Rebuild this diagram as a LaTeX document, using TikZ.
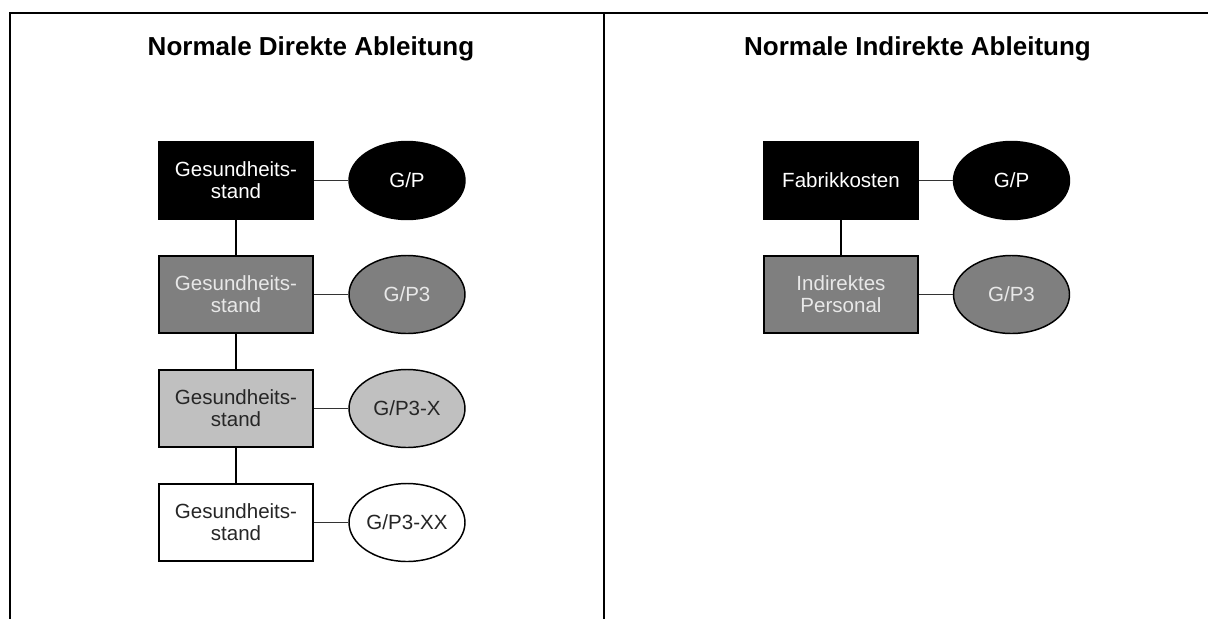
\documentclass[tikz,border=0pt]{standalone}
\usepackage{fontspec}
\setmainfont{Liberation Sans}
\usetikzlibrary{shapes.geometric}
\definecolor{darkfill}{HTML}{7F7F7F}
\definecolor{lightfill}{HTML}{C0C0C0}
\definecolor{paletext}{HTML}{E8E8E8}
\definecolor{inktext}{HTML}{262626}
\tikzset{
  frame/.style={line width=1.5pt, black},
  heading/.style={font=\fontsize{19.5}{23}\selectfont\bfseries, text=black, inner sep=0pt},
  unitbox/.style={draw=black, line width=1.5pt, rectangle, minimum width=115.5pt,
    minimum height=57.75pt, inner sep=0pt, align=center,
    font=\fontsize{15.4}{16.3}\selectfont},
  codeoval/.style={draw=black, line width=1.1pt, ellipse, minimum width=87pt,
    minimum height=58.5pt, inner sep=0pt, font=\fontsize{15.4}{16.3}\selectfont},
  lvl0/.style={fill=black, text=white},
  lvl1/.style={fill=darkfill, text=paletext},
  lvl2/.style={fill=lightfill, text=inktext},
  lvl3/.style={fill=white, text=inktext},
  hlink/.style={line width=0.75pt, black!80},
  vlink/.style={line width=1.5pt, black}
}
\begin{document}
\begin{tikzpicture}[x=0.75pt, y=-0.75pt]
\useasboundingbox (0,0) rectangle (1208,619);
\fill[white] (0,0) rectangle (1208,619);

% panel frame
\draw[frame] (9,13) -- (1208,13);
\draw[frame] (10,13) -- (10,619);
\draw[frame] (604,13) -- (604,619);

% headings
\node[heading] (tleft) at (311,49) {Normale Direkte Ableitung};
\node[heading] (tright) at (917.5,49) {Normale Indirekte Ableitung};

% direct derivation chain
\node[unitbox, lvl0] (d0) at (236,180.5) {Gesundheits-\\stand};
\node[unitbox, lvl1] (d1) at (236,294.5) {Gesundheits-\\stand};
\node[unitbox, lvl2] (d2) at (236,408.5) {Gesundheits-\\stand};
\node[unitbox, lvl3] (d3) at (236,522.5) {Gesundheits-\\stand};
\node[codeoval, lvl0] (c0) at (407,180.5) {G/P};
\node[codeoval, lvl1] (c1) at (407,294.5) {G/P3};
\node[codeoval, lvl2] (c2) at (407,408.5) {G/P3-X};
\node[codeoval, lvl3] (c3) at (407,522.5) {G/P3-XX};

\draw[vlink] (d0) -- (d1);
\draw[vlink] (d1) -- (d2);
\draw[vlink] (d2) -- (d3);
\draw[hlink] (d0) -- (c0);
\draw[hlink] (d1) -- (c1);
\draw[hlink] (d2) -- (c2);
\draw[hlink] (d3) -- (c3);

% indirect derivation chain
\node[unitbox, lvl0] (i0) at (841,180.5) {Fabrikkosten};
\node[unitbox, lvl1] (i1) at (841,294.5) {Indirektes\\Personal};
\node[codeoval, lvl0] (k0) at (1011.5,180.5) {G/P};
\node[codeoval, lvl1] (k1) at (1011.5,294.5) {G/P3};

\draw[vlink] (i0) -- (i1);
\draw[hlink] (i0) -- (k0);
\draw[hlink] (i1) -- (k1);
\end{tikzpicture}
\end{document}
